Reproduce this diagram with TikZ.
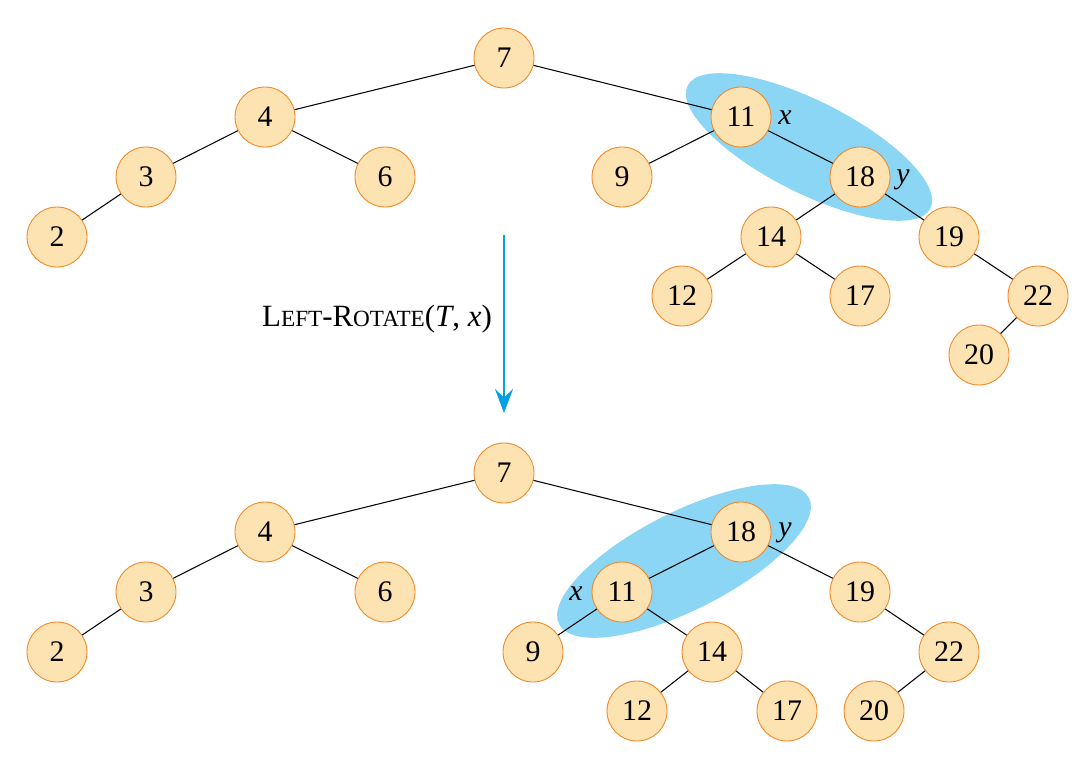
\documentclass[tikz,border=0pt]{standalone}
\usepackage{fontspec}
\setmainfont{Liberation Serif}
\usetikzlibrary{positioning,shapes,arrows.meta}
\definecolor{keyfill}{RGB}{253,227,177}
\definecolor{keyline}{RGB}{240,135,40}
\definecolor{hlfill}{RGB}{140,214,245}
\definecolor{arrowblue}{RGB}{0,160,226}
\tikzstyle{key}=[draw=keyline,fill=keyfill,circle,minimum size=12mm,inner sep=0pt,line width=0.5pt]
\tikzstyle{link}=[line width=0.6pt]
\tikzstyle{hl}=[fill=hlfill]
\newcommand{\newKey}[3]{\node[key](#1) at (#3) {#2};}
\newcommand{\newLink}[2]{\draw[link] (#1) -- (#2);}
\newcommand{\scfont}{\fontsize{13.2}{15}\selectfont}

\begin{document}
\begin{tikzpicture}[x=0.2mm,y=-0.2mm,
      font=\fontsize{17}{20}\selectfont
      ]
      \useasboundingbox (0,0) rectangle (1077,762);
      % highlighted pairs
      \fill[hl,rotate around={-26.8:(809,147)}] (809,147) ellipse [x radius=136,y radius=46];
      \fill[hl,rotate around={26.8:(684,561)}] (684,561) ellipse [x radius=140,y radius=49];
      % tree before
      \newKey{a7}{7}{504,58}
      \newKey{a4}{4}{265,117}
      \newKey{a3}{3}{146,177}
      \newKey{a2}{2}{57,237}
      \newKey{a6}{6}{385,177}
      \newKey{a11}{11}{741,117}
      \newKey{a9}{9}{622,177}
      \newKey{a18}{18}{860,177}
      \newKey{a14}{14}{771,237}
      \newKey{a12}{12}{682,296}
      \newKey{a17}{17}{860,296}
      \newKey{a19}{19}{949,237}
      \newKey{a22}{22}{1038,296}
      \newKey{a20}{20}{979,355}
      \newLink{a7}{a4}
      \newLink{a4}{a3}
      \newLink{a3}{a2}
      \newLink{a4}{a6}
      \newLink{a7}{a11}
      \newLink{a11}{a9}
      \newLink{a11}{a18}
      \newLink{a18}{a14}
      \newLink{a14}{a12}
      \newLink{a14}{a17}
      \newLink{a18}{a19}
      \newLink{a19}{a22}
      \newLink{a22}{a20}
      \node (ax) at (785,118) {\textit{x}};
      \node (ay) at (903,180) {\textit{y}};
      % rotation
      \coordinate (from) at (504,235);
      \coordinate (to) at (504,413);
      \draw[arrowblue,line width=0.4mm,-{Stealth[length=4.8mm,width=3.6mm,inset=1.7mm]}] (from) -- (to);
      \node[font=\fontsize{17.6}{20}\selectfont] (op) at (377,319)
        {L{\scfont EFT}-R{\scfont OTATE}(\textit{T}, \textit{x})};
      % tree after
      \newKey{b7}{7}{504,473}
      \newKey{b4}{4}{265,532}
      \newKey{b3}{3}{146,592}
      \newKey{b2}{2}{57,652}
      \newKey{b6}{6}{385,592}
      \newKey{b18}{18}{741,532}
      \newKey{b11}{11}{622,592}
      \newKey{b9}{9}{533,652}
      \newKey{b14}{14}{712,652}
      \newKey{b12}{12}{637,711}
      \newKey{b17}{17}{787,711}
      \newKey{b19}{19}{860,592}
      \newKey{b22}{22}{949,652}
      \newKey{b20}{20}{874,711}
      \newLink{b7}{b4}
      \newLink{b4}{b3}
      \newLink{b3}{b2}
      \newLink{b4}{b6}
      \newLink{b7}{b18}
      \newLink{b18}{b11}
      \newLink{b11}{b9}
      \newLink{b11}{b14}
      \newLink{b14}{b12}
      \newLink{b14}{b17}
      \newLink{b18}{b19}
      \newLink{b19}{b22}
      \newLink{b22}{b20}
      \node (by) at (785,533) {\textit{y}};
      \node (bx) at (576,594) {\textit{x}};
    \end{tikzpicture}
\end{document}
